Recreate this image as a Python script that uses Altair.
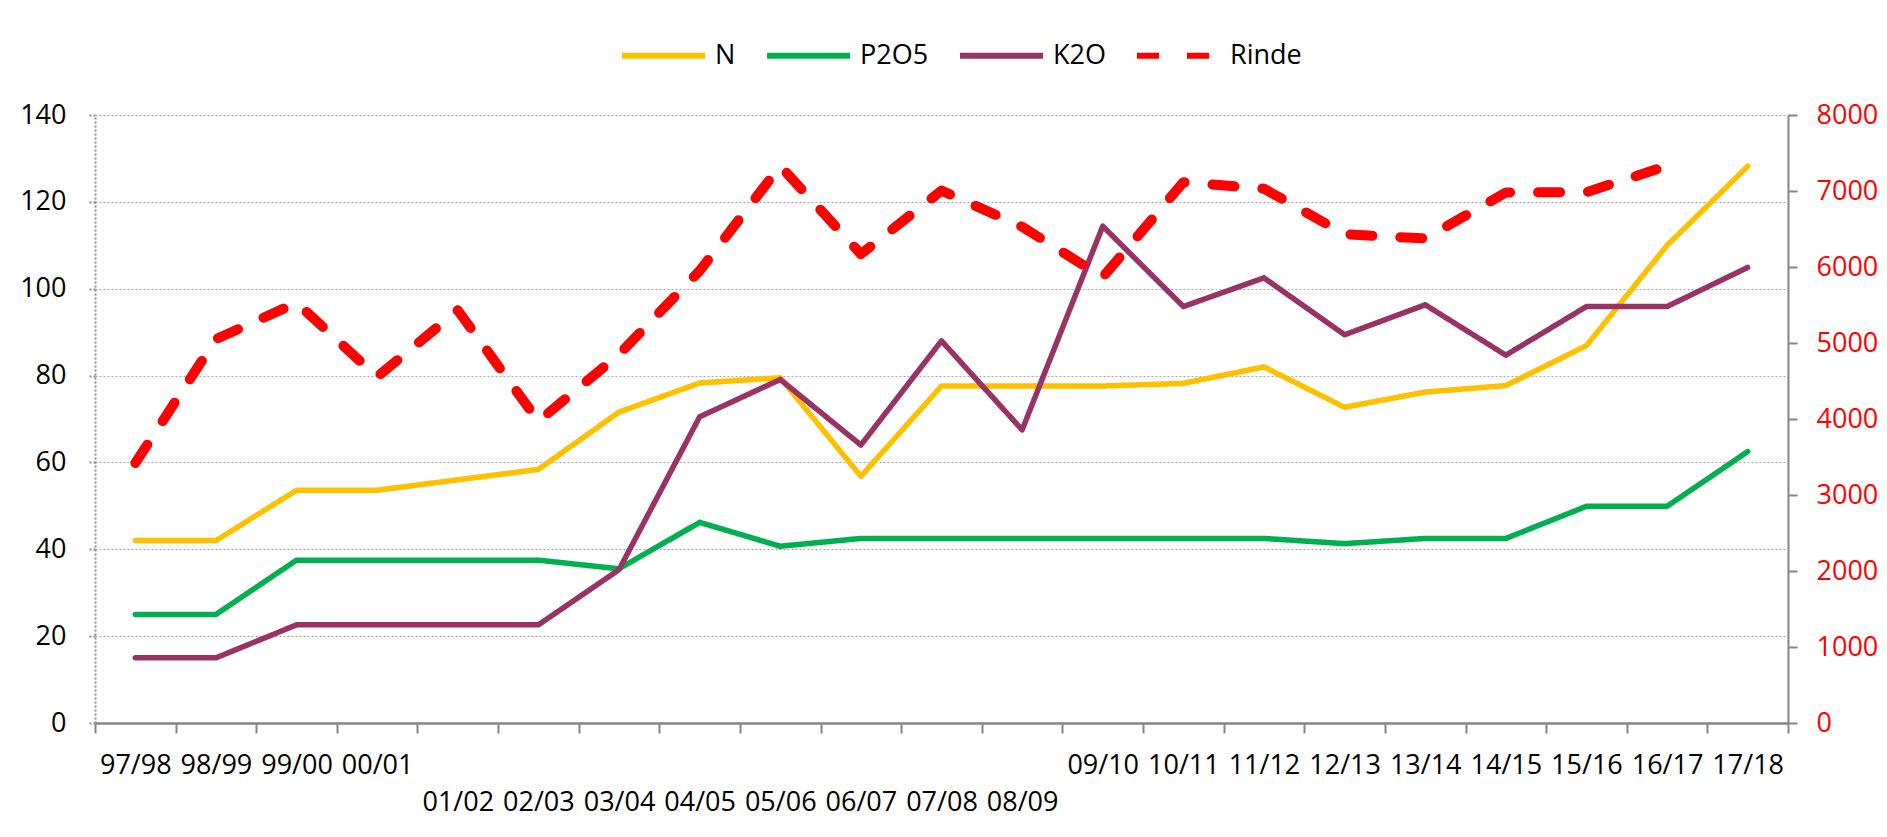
import altair as alt
import pandas as pd

# ---------------- data ----------------
seasons = ["97/98", "98/99", "99/00", "00/01", "01/02", "02/03", "03/04",
           "04/05", "05/06", "06/07", "07/08", "08/09", "09/10", "10/11",
           "11/12", "12/13", "13/14", "14/15", "15/16", "16/17", "17/18"]
# labels printed on the second (lower) row of the category axis
second_row = ["01/02", "02/03", "03/04", "04/05", "05/06", "06/07", "07/08", "08/09"]

n_vals = [42, 42, 53.6, 53.6, 56, 58.4, 71.6, 78.3, 79.5, 56.8, 77.6,
          77.6, 77.6, 78.2, 82.0, 72.7, 76.2, 77.7, 86.9, 110.0, 128.2]
p2o5_vals = [25, 25, 37.5, 37.5, 37.5, 37.5, 35.5, 46.2, 40.7, 42.5, 42.5,
             42.5, 42.5, 42.5, 42.5, 41.3, 42.5, 42.5, 49.9, 49.9, 62.5]
k2o_vals = [15, 15, 22.6, 22.6, 22.6, 22.6, 35.3, 70.5, 79.1, 64, 88,
            67.5, 114.4, 95.9, 102.5, 89.4, 96.3, 84.7, 95.9, 95.9, 104.9]
rinde_vals = [3420, 5050, 5530, 4555, 5430, 3970, 4850, 5950, 7330, 6170, 7005,
              6530, 5865, 7115, 7030, 6432, 6375, 6980, 6985, 7330, None]

series_names = ["N", "P2O5", "K2O", "Rinde"]
series_colors = ["#FFC000", "#00B050", "#993366", "#FF0000"]
series_dash = [[1, 0], [1, 0], [1, 0], [22, 28]]

rows = []
for name, vals in [("N", n_vals), ("P2O5", p2o5_vals), ("K2O", k2o_vals)]:
    for s, v in zip(seasons, vals):
        rows.append({"season": s, "series": name, "value": v})
nutr = pd.DataFrame(rows)
rinde = pd.DataFrame([{"season": s, "series": "Rinde", "value": v}
                      for s, v in zip(seasons, rinde_vals) if v is not None])

# ---------------- style ----------------
FONT = "Open Sans"
FS = 27
AXIS_GRAY = "#868686"

row2_js = "[" + ",".join("'" + s + "'" for s in second_row) + "]"
label_expr = "indexof(" + row2_js + ", datum.label) >= 0 ? ['', datum.label] : datum.label"

x_enc = alt.X(
    "season:N",
    sort=seasons,
    scale=alt.Scale(type="band", domain=seasons, paddingInner=0, paddingOuter=0),
    axis=alt.Axis(
        title=None, labelAngle=0, tickBand="extent", grid=False,
        domainColor=AXIS_GRAY, domainWidth=2.5,
        tickColor=AXIS_GRAY, tickWidth=2, tickSize=10,
        labelFont=FONT, labelFontSize=FS, labelColor="black",
        labelPadding=19, labelBaseline="top", labelLineHeight=37,
        labelExpr=label_expr, labelOverlap=False,
    ),
)

legend = alt.Legend(
    title=None, orient="none", legendX=524, legendY=-104,
    direction="horizontal", symbolType="stroke", symbolSize=6889,
    symbolStrokeWidth=6, labelFont=FONT, labelFontSize=FS,
    labelColor="black", labelOffset=7, columnPadding=19, padding=0,
)

color_enc = alt.Color("series:N", scale=alt.Scale(domain=series_names, range=series_colors),
                      legend=legend)
dash_enc = alt.StrokeDash("series:N", scale=alt.Scale(domain=series_names, range=series_dash),
                          legend=legend)

left_axis = alt.Axis(
    title=None, values=list(range(0, 141, 20)), grid=True,
    gridColor="#a6a6a6", gridDash=[2, 2], gridWidth=1,
    domainColor="#8c8c8c", domainDash=[2, 2], domainWidth=2,
    tickColor="#8c8c8c", tickDash=[2, 2], tickWidth=2, tickSize=8,
    labelFont=FONT, labelFontSize=FS, labelColor="black", labelPadding=21,
)
right_axis = alt.Axis(
    title=None, orient="right", values=list(range(0, 8001, 1000)), format="d",
    grid=False, domainColor=AXIS_GRAY, domainWidth=2,
    tickColor=AXIS_GRAY, tickWidth=2, tickSize=9,
    labelFont=FONT, labelFontSize=FS, labelColor="#FF0000", labelPadding=19,
)

y_left = alt.Y("value:Q", scale=alt.Scale(domain=[0, 140], nice=False), axis=left_axis)
y_right = alt.Y("value:Q", scale=alt.Scale(domain=[0, 8000], nice=False), axis=right_axis)


def nutrient_layer(name):
    return (
        alt.Chart(nutr)
        .transform_filter(alt.datum.series == name)
        .mark_line(strokeWidth=5.5, strokeCap="round", strokeJoin="round")
        .encode(x=x_enc, y=y_left, color=color_enc, strokeDash=dash_enc)
    )


nutrients = alt.layer(nutrient_layer("N"), nutrient_layer("P2O5"), nutrient_layer("K2O"))

rinde_layer = (
    alt.Chart(rinde)
    .mark_line(strokeWidth=10, strokeCap="round", strokeJoin="round")
    .encode(x=x_enc, y=y_right, color=color_enc, strokeDash=dash_enc)
)

chart = (
    alt.layer(nutrients, rinde_layer)
    .resolve_scale(y="independent")
    .properties(
        width=1693, height=608,
        padding={"left": 87, "top": 107, "right": 91, "bottom": 100},
        autosize=alt.AutoSizeParams(type="none"),
        background="white",
    )
    .configure_view(stroke=None)
)

chart.save("out.html", embed_options={"renderer": "svg", "actions": False})
